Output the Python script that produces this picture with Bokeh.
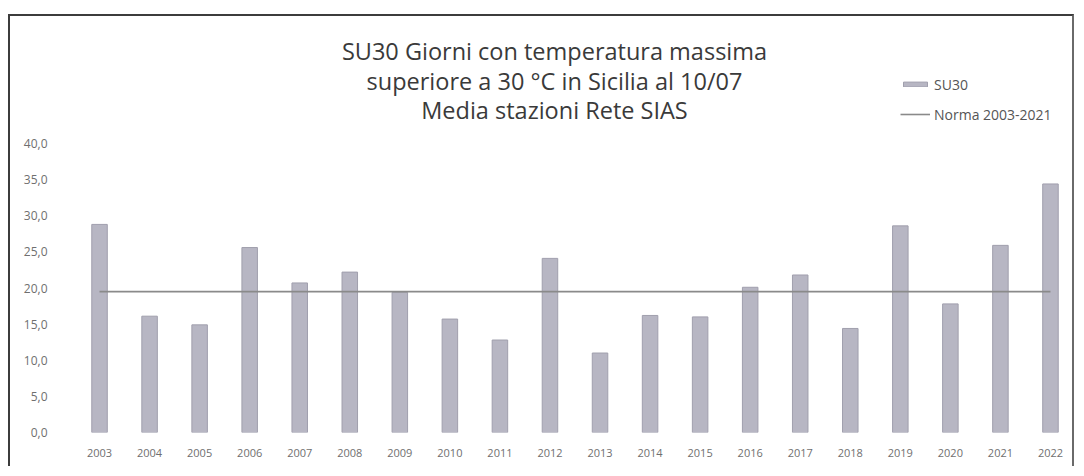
from bokeh.plotting import figure
from bokeh.models import (ColumnDataSource, FactorRange, Range1d, FixedTicker,
                          CustomJSTickFormatter, Label, Legend, LegendItem)
from bokeh.embed import file_html
from bokeh.resources import INLINE

# ---- data ----
years = ["2003", "2004", "2005", "2006", "2007", "2008", "2009", "2010", "2011", "2012",
         "2013", "2014", "2015", "2016", "2017", "2018", "2019", "2020", "2021", "2022"]
su30 = [28.8, 16.1, 14.9, 25.6, 20.7, 22.2, 19.4, 15.7, 12.8, 24.1,
        11.0, 16.2, 16.0, 20.1, 21.8, 14.4, 28.6, 17.8, 25.9, 34.4]
norma = [19.5] * 20
y_ticks = [0, 5, 10, 15, 20, 25, 30, 35, 40]
title_lines = ["SU30 Giorni con temperatura massima",
               "superiore a 30 °C in Sicilia al 10/07",
               "Media stazioni Rete SIAS"]

src = ColumnDataSource(dict(year=years, su30=su30, norma=norma))

# ---- layout ----
W, H = 1066, 452
border_left, border_right = 64, 1
border_top, border_bottom = 0, 36
frame_h = H - border_top - border_bottom
px_per_unit = 289 / 40.0
y_top = frame_h / px_per_unit

FONT = "Open Sans"

p = figure(width=W, height=H, x_range=FactorRange(*years, range_padding=0),
           y_range=Range1d(0, y_top), output_backend="svg", toolbar_location=None,
           min_border_left=border_left, min_border_right=border_right,
           min_border_top=border_top, min_border_bottom=border_bottom,
           title=None,
           styles={"margin-top": "14px", "margin-left": "8px",
                   "border-left": "2px solid #3c3c3c",
                   "border-top": "2px solid #3c3c3c", "border-right": "2px solid #6a6a6a"})

p.outline_line_color = None
p.grid.visible = False
p.background_fill_color = "white"
p.border_fill_color = "white"

bars = p.vbar(x="year", top="su30", width=0.31, source=src,
              fill_color="#b7b6c3", line_color="#a09fad", line_width=1)
line = p.line(x="year", y="norma", source=src, line_color="#8a8a8a", line_width=1.6)

# axes
p.yaxis.ticker = FixedTicker(ticks=y_ticks)
p.yaxis.formatter = CustomJSTickFormatter(code="return tick.toFixed(1).replace('.', ',');")
for ax in (p.xaxis[0], p.yaxis[0]):
    ax.axis_line_color = None
    ax.major_tick_line_color = None
    ax.minor_tick_line_color = None
    ax.major_label_text_font = FONT
    ax.major_label_text_color = "#6f6f6f"
p.yaxis.major_label_text_font_size = "12px"
p.yaxis.major_label_standoff = 21
p.xaxis.major_label_text_font_size = "11px"
p.xaxis.major_label_standoff = 10

# title (three centred lines)
baselines_px = [50, 80, 109]
for txt, b in zip(title_lines, baselines_px):
    p.add_layout(Label(x=9.59, y=(432 - b) / px_per_unit, text=txt,
                       text_align="center", text_baseline="alphabetic",
                       text_font=FONT, text_font_size="23.5px",
                       text_color="#3a3a3a"))

# legend
legend = Legend(items=[LegendItem(label="SU30", renderers=[bars]),
                       LegendItem(label="Norma 2003-2021", renderers=[line])],
                location=(826, 308), orientation="vertical",
                glyph_width=30, glyph_height=6, label_standoff=4,
                label_height=20, spacing=10, padding=0, margin=0,
                border_line_color=None, background_fill_alpha=0,
                label_text_font=FONT, label_text_font_size="14px",
                label_text_color="#555555")
p.add_layout(legend)

open("out.html", "w").write(file_html(p, INLINE))
